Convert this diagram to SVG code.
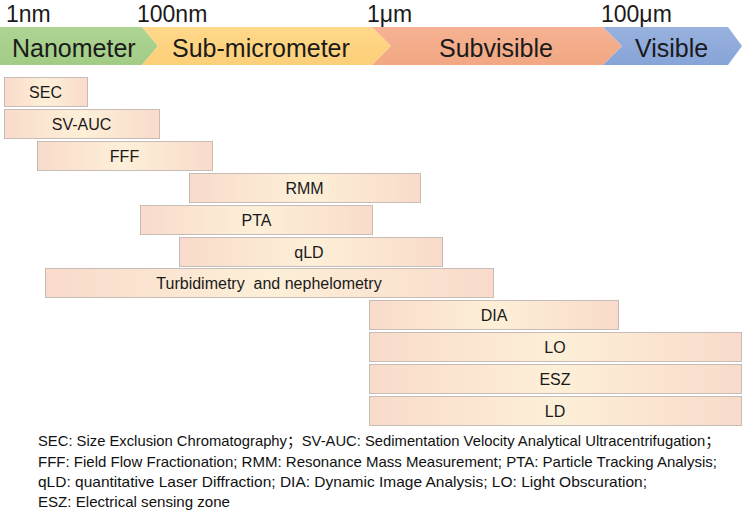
<svg xmlns="http://www.w3.org/2000/svg" width="742" height="517" viewBox="0 0 742 517">
<defs>
<linearGradient id="barFill" x1="0" y1="0" x2="1" y2="0">
<stop offset="0" stop-color="#f9dbcb"/>
<stop offset="0.5" stop-color="#fdefd8"/>
<stop offset="1" stop-color="#f9dbcb"/>
</linearGradient>
<linearGradient id="gGreen" x1="0" y1="0" x2="0" y2="1">
<stop offset="0" stop-color="#aed493"/>
<stop offset="1" stop-color="#a2cc86"/>
</linearGradient>
<linearGradient id="gYellow" x1="0" y1="0" x2="0" y2="1">
<stop offset="0" stop-color="#ffd88a"/>
<stop offset="1" stop-color="#fccf78"/>
</linearGradient>
<linearGradient id="gOrange" x1="0" y1="0" x2="0" y2="1">
<stop offset="0" stop-color="#f6b293"/>
<stop offset="1" stop-color="#f1a782"/>
</linearGradient>
<linearGradient id="gBlue" x1="0" y1="0" x2="0" y2="1">
<stop offset="0" stop-color="#98b1de"/>
<stop offset="1" stop-color="#87a4d8"/>
</linearGradient>
</defs>
<style>
.scale{font-family:"Liberation Sans",Arial,sans-serif;font-size:23px;fill:#1a1a1a}
.band{font-family:"Liberation Sans",Arial,sans-serif;font-size:25px;fill:#1a1a1a}
.bar rect{fill:url(#barFill);stroke:#c6beb6;stroke-width:1}
.bar text{font-family:"Liberation Sans",Arial,sans-serif;font-size:16px;fill:#1a1a1a;text-anchor:middle}
.foot{font-family:"Liberation Sans","Noto Sans CJK SC",sans-serif;font-size:15px;fill:#111111}
</style>
<rect width="742" height="517" fill="#ffffff"/>

<g id="scale-labels">
<text class="scale" x="6" y="22">1nm</text>
<text class="scale" x="137" y="22">100nm</text>
<text class="scale" x="367" y="22">1μm</text>
<text class="scale" x="601" y="22">100μm</text>
</g>

<g id="band-nanometer">
<path d="M0,27 L142,27 L158,46 L142,65 L0,65 Z" fill="url(#gGreen)"/>
<text class="band" x="12" y="57">Nanometer</text>
</g>
<g id="band-submicrometer">
<path d="M142,27 L372,27 L391,46 L372,65 L142,65 L158,46 Z" fill="url(#gYellow)"/>
<text class="band" x="172" y="57">Sub-micrometer</text>
</g>
<g id="band-subvisible">
<path d="M372,27 L603,27 L622,46 L603,65 L372,65 L391,46 Z" fill="url(#gOrange)"/>
<text class="band" x="439" y="57">Subvisible</text>
</g>
<g id="band-visible">
<path d="M603,27 L728,27 L742,46 L728,65 L603,65 L622,46 Z" fill="url(#gBlue)"/>
<text class="band" x="635" y="57">Visible</text>
</g>

<g id="connectors"></g>

<g id="SEC" class="bar"><rect x="4.5" y="77.5" width="83" height="29"/><text x="45.5" y="98">SEC</text></g>
<g id="SV-AUC" class="bar"><rect x="4.5" y="109.5" width="155" height="29"/><text x="81.5" y="130">SV-AUC</text></g>
<g id="FFF" class="bar"><rect x="37.5" y="141.5" width="175" height="29"/><text x="124.5" y="162">FFF</text></g>
<g id="RMM" class="bar"><rect x="189.5" y="173.5" width="231" height="29"/><text x="304.5" y="194">RMM</text></g>
<g id="PTA" class="bar"><rect x="140.5" y="205.5" width="232" height="29"/><text x="256.5" y="226">PTA</text></g>
<g id="qLD" class="bar"><rect x="179.5" y="237.5" width="263" height="29"/><text x="309" y="258">qLD</text></g>
<g id="Turbidimetry" class="bar"><rect x="45.5" y="268.5" width="448" height="29"/><text x="269" y="289" style="white-space:pre">Turbidimetry  and nephelometry</text></g>
<g id="DIA" class="bar"><rect x="369.5" y="300.5" width="249" height="29"/><text x="494" y="321">DIA</text></g>
<g id="LO" class="bar"><rect x="369.5" y="332.5" width="372" height="29"/><text x="555" y="353">LO</text></g>
<g id="ESZ" class="bar"><rect x="369.5" y="364.5" width="372" height="29"/><text x="555" y="385">ESZ</text></g>
<g id="LD" class="bar"><rect x="369.5" y="396.5" width="372" height="29"/><text x="555" y="417">LD</text></g>

<g id="legend">
<text class="foot" x="38" y="446" textLength="682" lengthAdjust="spacingAndGlyphs">SEC: Size Exclusion Chromatography；SV-AUC: Sedimentation Velocity Analytical Ultracentrifugation；</text>
<text class="foot" x="38" y="466.5" textLength="679" lengthAdjust="spacingAndGlyphs">FFF: Field Flow Fractionation; RMM: Resonance Mass Measurement; PTA: Particle Tracking Analysis;</text>
<text class="foot" x="38" y="487" textLength="609" lengthAdjust="spacingAndGlyphs">qLD: quantitative Laser Diffraction; DIA: Dynamic Image Analysis; LO: Light Obscuration;</text>
<text class="foot" x="38" y="507" textLength="192" lengthAdjust="spacingAndGlyphs">ESZ: Electrical sensing zone</text>
</g>
</svg>
